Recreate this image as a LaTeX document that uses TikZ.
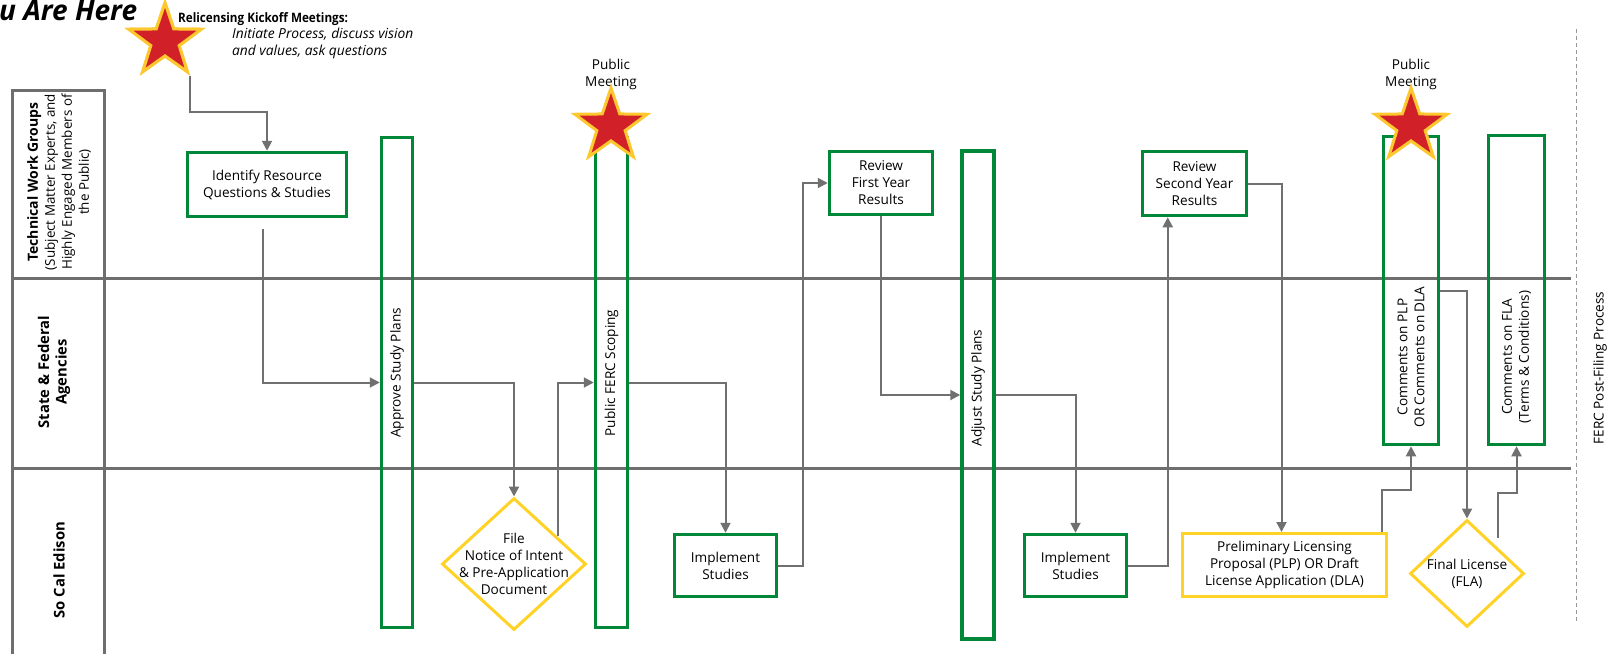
\documentclass[tikz,border=0pt]{standalone}
\usepackage{fontspec}
\setmainfont{Open Sans}
\usetikzlibrary{shapes.geometric,arrows.meta,calc}
\definecolor{grn}{RGB}{0,135,55}
\definecolor{ylw}{RGB}{255,210,40}
\definecolor{strred}{RGB}{210,32,40}
\definecolor{strgold}{RGB}{253,200,47}
\definecolor{conn}{RGB}{112,112,112}
\definecolor{lanec}{RGB}{110,110,110}
\definecolor{dashc}{RGB}{150,150,150}
\begin{document}
\begin{tikzpicture}[x=1pt,y=-1pt,
  gbox/.style={draw=grn,line width=3.5pt,inner sep=0pt},
  ybox/.style={draw=ylw,line width=3pt,inner sep=0pt},
  txt/.style={font=\fontsize{13.6}{17}\selectfont,align=center,text=black,inner sep=0pt},
  ltxt/.style={font=\fontsize{13.4}{17}\selectfont,align=center,text=black,inner sep=0pt},
  btxt/.style={font=\fontsize{14.8}{17.5}\selectfont\bfseries,align=center,text=black,inner sep=0pt},
  cn/.style={draw=conn,line width=2pt,-{Triangle[length=10pt,width=10pt]}},
  starn/.style={star,star points=5,star point ratio=2.55,minimum size=76pt,inner sep=0pt,fill=strred,draw=strgold,line width=3pt},
  divl/.style={draw=lanec,line width=3pt}]
\useasboundingbox (0,0) rectangle (1616,654);

% lanes
\draw[divl] (12,654) -- (12,90) -- (104,90) -- (104,654);
\draw[divl] (12,278) -- (1571,278);
\draw[divl] (12,468) -- (1571,468);
\draw[dashc,line width=1pt,dash pattern=on 4pt off 3pt] (1576,29) -- (1576,621);

\node[ltxt,rotate=90] (l1) at (59,182) {{\fontsize{14}{17}\selectfont\bfseries Technical Work Groups}\\(Subject Matter Experts, and\\Highly Engaged Members of\\the Public)};
\node[btxt,rotate=90] (l2) at (54,372) {State \& Federal\\Agencies};
\node[btxt,rotate=90] (l3) at (59,570) {So Cal Edison};
\node[txt,rotate=90] (ferc) at (1600,368) {FERC Post-Filing Process};

% header
\node[anchor=base west,inner sep=0pt,font=\fontsize{28}{32}\selectfont\bfseries\itshape] (here) at (-1,20) {u Are Here};
\node[anchor=base west,inner sep=0pt,font=\fontsize{13}{17}\selectfont\bfseries] (kick) at (178,22) {\scalebox{0.9}[1]{Relicensing Kickoff Meetings:}};
\node[anchor=base west,inner sep=0pt,font=\fontsize{13.8}{17}\selectfont\itshape] (kick2) at (232,38) {Initiate Process, discuss vision};
\node[anchor=base west,inner sep=0pt,font=\fontsize{13.8}{17}\selectfont\itshape] (kick3) at (232,55) {and values, ask questions};
\node[txt] (pm1) at (611,74) {Public\\Meeting};
\node[txt] (pm2) at (1411,74) {Public\\Meeting};

% boxes
\node[gbox,txt,minimum width=159pt,minimum height=64pt] (id) at (267,184.5) {Identify Resource\\Questions \& Studies};
\node[gbox,minimum width=31pt,minimum height=490pt] (ap) at (397,382.5) {};
\node[txt,rotate=90] (apt) at (397,373) {Approve Study Plans};
\node[gbox,minimum width=32pt,minimum height=490pt] (pf) at (611.5,382.5) {};
\node[txt,rotate=90] (pft) at (611.5,373) {Public FERC Scoping};
\node[gbox,txt,minimum width=102pt,minimum height=62pt] (im1) at (725.5,565.5) {Implement\\Studies};
\node[gbox,txt,minimum width=103pt,minimum height=63pt] (rv1) at (881,183) {Review\\First Year\\Results};
\node[gbox,minimum width=32pt,minimum height=488pt] (ad) at (978,395) {};
\node[txt,rotate=90] (adt) at (978,388) {Adjust Study Plans};
\node[gbox,txt,minimum width=102pt,minimum height=62pt] (im2) at (1075.5,565.5) {Implement\\Studies};
\node[gbox,txt,minimum width=104pt,minimum height=64pt] (rv2) at (1194.5,183.5) {Review\\Second Year\\Results};
\node[ybox,txt,minimum width=204pt,minimum height=63pt] (plp) at (1284.5,565) {Preliminary Licensing\\Proposal (PLP) OR Draft\\License Application (DLA)};
\node[gbox,minimum width=55pt,minimum height=308pt] (cm1) at (1411,290.5) {};
\node[txt,rotate=90] (cm1t) at (1411,357) {Comments on PLP\\OR Comments on DLA};
\node[gbox,minimum width=56pt,minimum height=309pt] (cm2) at (1516.5,290) {};
\node[txt,rotate=90] (cm2t) at (1516.5,357) {Comments on FLA\\(Terms \& Conditions)};
\node[ybox,diamond,minimum width=144pt,minimum height=132pt] (fn) at (514,564) {};
\node[txt] (fnt) at (514,564) {File\\Notice of Intent\\\& Pre-Application\\Document};
\node[ybox,diamond,minimum width=114pt,minimum height=107pt] (fla) at (1467,573.5) {};
\node[txt] (flat) at (1467,573.5) {Final License\\(FLA)};

% free ends
\coordinate (idout) at (263,229);
\coordinate (fnout) at (558,536);
\coordinate (flaout) at (1498,538);

% connectors
\node[starn] (s1) at (165,41) {};
\draw[cn] (s1.outer point 4) -- ++(0,36) -| (id.north);
\node[starn] at (165,41) {};
\draw[cn] (idout) |- (ap.west);
\draw[cn] (ap.east) -| (fn.north);
\draw[cn] (fnout) |- (pf.west);
\draw[cn] (pf.east) -| (im1.north);
\draw[cn] (im1.east) -- ++(25,0) |- (rv1.west);
\draw[cn] (rv1.south) |- (ad.west);
\draw[cn] (ad.east) -| (im2.north);
\draw[cn] (im2.east) -| ([xshift=27pt]rv2.south west);
\draw[cn] (rv2.east) -| ([xshift=-3pt]plp.north);
\draw[cn] ([xshift=-6pt]plp.north east) -- ++(0,-42) -| (cm1.south);
\draw[cn] (cm1.east) -| (fla.north);
\draw[cn] (flaout) -- ++(0,-45) -| (cm2.south);

% stars
\node[starn] (s2) at (611,126) {};
\node[starn] (s3) at (1411,126) {};
\end{tikzpicture}
\end{document}
